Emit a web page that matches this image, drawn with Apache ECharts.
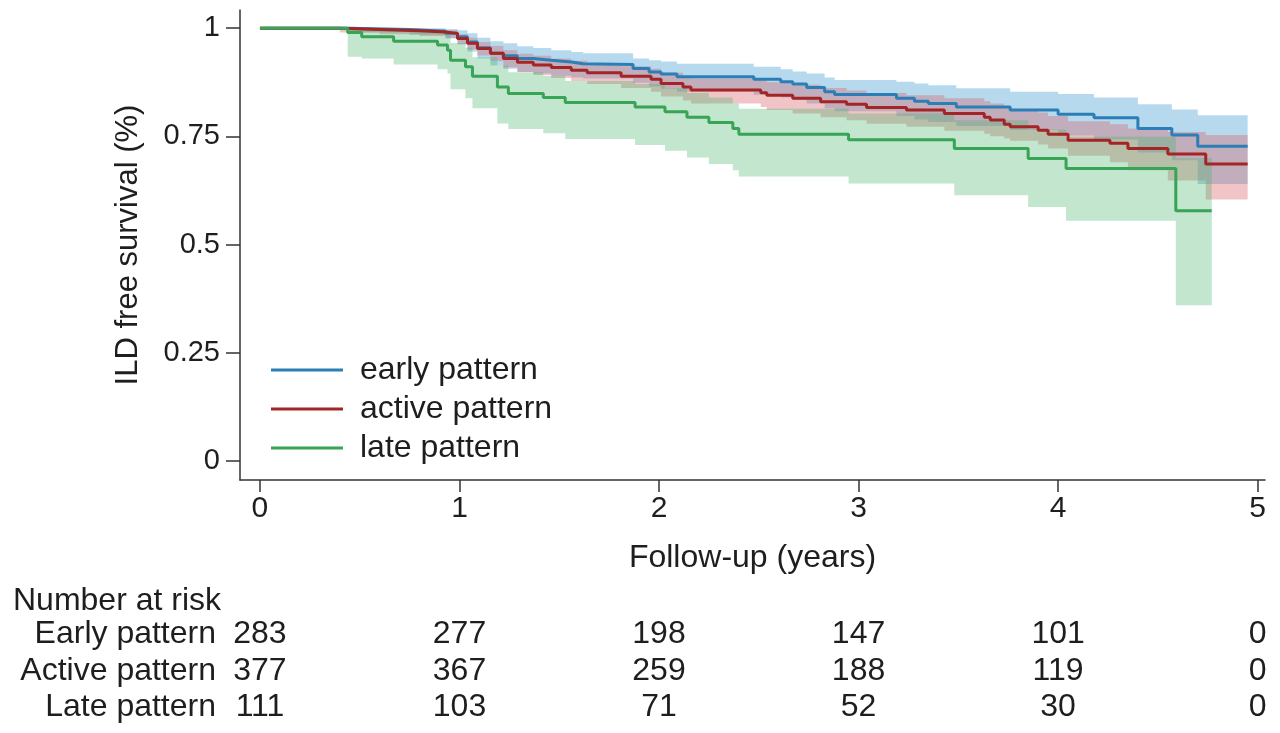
<!DOCTYPE html>
<html lang="en">
<head>
    <meta charset="UTF-8">
    <title>ILD free survival</title>
    <style>
        * {
            margin: 0;
            padding: 0;
        }

        .main {
            width: 1280px;
            height: 733px;
        }
    </style>
</head>
<body>
<div id="main" class="main"></div>
<script src="https://cdn.jsdelivr.net/npm/echarts@6/dist/echarts.min.js"></script>
<script>
    // tick labels
    var xTicks = [0, 1, 2, 3, 4, 5];
    var yTicks = [0, 0.25, 0.5, 0.75, 1];

    // early pattern: step times, survival, lower / upper CI
    var earlyTime = [0, 0.45, 0.75, 0.93, 0.99, 1.04, 1.09, 1.155, 1.22, 1.29, 1.37, 1.46, 1.56, 1.62, 1.87, 1.95, 2.01, 2.09, 2.475, 2.61, 2.67, 2.74, 2.83, 2.88, 3.19, 3.28, 3.35, 3.49, 3.76, 4.0, 4.18, 4.40, 4.57, 4.70, 4.95];
    var earlySurv = [1, 0.997, 0.993, 0.988, 0.980, 0.968, 0.955, 0.942, 0.936, 0.930, 0.926, 0.922, 0.918, 0.916, 0.907, 0.899, 0.894, 0.888, 0.882, 0.876, 0.871, 0.863, 0.853, 0.847, 0.838, 0.831, 0.826, 0.818, 0.811, 0.801, 0.793, 0.768, 0.753, 0.727, 0.727];
    var earlyLow = [1, 0.990, 0.985, 0.976, 0.962, 0.946, 0.930, 0.914, 0.906, 0.899, 0.895, 0.890, 0.886, 0.884, 0.874, 0.865, 0.860, 0.853, 0.846, 0.840, 0.834, 0.826, 0.815, 0.808, 0.797, 0.789, 0.783, 0.774, 0.765, 0.752, 0.743, 0.713, 0.695, 0.640, 0.640];
    var earlyHigh = [1, 1, 1, 0.998, 0.995, 0.988, 0.978, 0.970, 0.965, 0.958, 0.954, 0.949, 0.945, 0.942, 0.930, 0.926, 0.923, 0.918, 0.911, 0.905, 0.900, 0.895, 0.886, 0.880, 0.876, 0.872, 0.868, 0.861, 0.853, 0.848, 0.840, 0.824, 0.812, 0.799, 0.799];

    // active pattern
    var activeTime = [0, 0.40, 0.60, 0.80, 0.93, 0.99, 1.04, 1.09, 1.155, 1.22, 1.29, 1.37, 1.46, 1.56, 1.64, 1.81, 1.96, 2.01, 2.12, 2.16, 2.51, 2.54, 2.67, 2.81, 2.94, 3.04, 3.24, 3.43, 3.63, 3.66, 3.73, 3.76, 3.90, 3.95, 4.05, 4.26, 4.35, 4.55, 4.74, 4.95];
    var activeSurv = [1, 0.997, 0.994, 0.991, 0.988, 0.976, 0.965, 0.953, 0.942, 0.930, 0.921, 0.915, 0.909, 0.903, 0.897, 0.889, 0.882, 0.872, 0.864, 0.857, 0.851, 0.845, 0.838, 0.830, 0.824, 0.817, 0.811, 0.803, 0.794, 0.788, 0.778, 0.772, 0.764, 0.755, 0.741, 0.734, 0.722, 0.709, 0.686, 0.686];
    var activeLow = [1, 0.990, 0.986, 0.982, 0.978, 0.964, 0.951, 0.937, 0.924, 0.910, 0.899, 0.892, 0.885, 0.878, 0.871, 0.862, 0.853, 0.842, 0.833, 0.826, 0.818, 0.811, 0.803, 0.794, 0.787, 0.779, 0.772, 0.763, 0.756, 0.750, 0.745, 0.740, 0.731, 0.722, 0.705, 0.690, 0.672, 0.648, 0.604, 0.604];
    var activeHigh = [1, 1, 0.999, 0.997, 0.995, 0.986, 0.978, 0.968, 0.959, 0.949, 0.941, 0.936, 0.930, 0.925, 0.919, 0.912, 0.906, 0.897, 0.890, 0.884, 0.880, 0.875, 0.869, 0.862, 0.856, 0.850, 0.845, 0.838, 0.831, 0.826, 0.818, 0.812, 0.805, 0.797, 0.785, 0.778, 0.768, 0.760, 0.753, 0.753];

    // late pattern
    var lateTime = [0, 0.44, 0.51, 0.67, 0.89, 0.94, 0.955, 1.03, 1.065, 1.19, 1.245, 1.42, 1.53, 1.88, 2.03, 2.14, 2.25, 2.37, 2.40, 2.95, 3.48, 3.85, 4.04, 4.59, 4.77];
    var lateSurv = [1, 0.990, 0.980, 0.970, 0.961, 0.949, 0.926, 0.911, 0.889, 0.864, 0.849, 0.840, 0.828, 0.818, 0.807, 0.794, 0.782, 0.768, 0.755, 0.742, 0.722, 0.699, 0.676, 0.578, 0.578];
    var lateLow = [1, 0.934, 0.930, 0.916, 0.905, 0.895, 0.859, 0.838, 0.815, 0.780, 0.767, 0.757, 0.744, 0.730, 0.717, 0.701, 0.686, 0.672, 0.657, 0.641, 0.614, 0.587, 0.555, 0.360, 0.360];
    var lateHigh = [1, 0.999, 0.997, 0.995, 0.992, 0.984, 0.966, 0.955, 0.933, 0.914, 0.898, 0.890, 0.878, 0.871, 0.861, 0.850, 0.840, 0.826, 0.814, 0.803, 0.787, 0.766, 0.749, 0.700, 0.700];

    // number at risk table
    var riskTime = [0, 1, 2, 3, 4, 5];
    var riskGroups = ['Early pattern', 'Active pattern', 'Late pattern'];
    var earlyRisk = [283, 277, 198, 147, 101, 0];
    var activeRisk = [377, 367, 259, 188, 119, 0];
    var lateRisk = [111, 103, 71, 52, 30, 0];

    var FONT = '"Liberation Sans", Arial, Helvetica, sans-serif';
    var INK = '#1e1e1e';

    function pairs(ts, vs) {
        return ts.map(function (t, i) {
            return [t, vs[i]];
        });
    }

    // confidence band as one step-shaped polygon, placed through the axes
    function band(name, ts, lo, hi, fill) {
        return {
            type: 'custom', name: name + ' ci', silent: true, z: 1,
            data: ts.map(function (t, i) {
                return [t, lo[i], hi[i]];
            }),
            encode: {x: 0, y: [1, 2]},
            renderItem: function (params, api) {
                if (params.dataIndex !== 0) {
                    return null;
                }
                var pts = [];
                var n = ts.length;
                for (var i = 0; i < n; i++) {
                    pts.push(api.coord([ts[i], hi[i]]));
                    if (i < n - 1) {
                        pts.push(api.coord([ts[i + 1], hi[i]]));
                    }
                }
                for (var j = n - 1; j >= 0; j--) {
                    if (j < n - 1) {
                        pts.push(api.coord([ts[j + 1], lo[j]]));
                    }
                    pts.push(api.coord([ts[j], lo[j]]));
                }
                return {
                    type: 'polygon',
                    shape: {points: pts},
                    style: {fill: fill}
                };
            }
        };
    }

    function curve(name, ts, vs, color) {
        return {
            type: 'line', name: name, step: 'end', data: pairs(ts, vs),
            symbol: 'none', lineStyle: {color: color, width: 3},
            itemStyle: {color: color}, z: 5
        };
    }

    function riskRow(row, counts) {
        return riskTime.map(function (t, i) {
            return [t, row, counts[i]];
        });
    }

    var blue = '#2b7fb6';
    var red = '#a32525';
    var green = '#37a456';

    var series = [
        band('early', earlyTime, earlyLow, earlyHigh, 'rgba(80,165,215,0.42)'),
        band('active', activeTime, activeLow, activeHigh, 'rgba(215,95,100,0.36)'),
        band('late', lateTime, lateLow, lateHigh, 'rgba(70,180,105,0.33)'),
        curve('early pattern', earlyTime, earlySurv, blue),
        curve('active pattern', activeTime, activeSurv, red),
        curve('late pattern', lateTime, lateSurv, green)
    ];

    // numbers at risk, written at their (time, group) cell
    series.push({
        type: 'custom', xAxisIndex: 1, yAxisIndex: 1, silent: true,
        data: riskRow(0, earlyRisk).concat(riskRow(1, activeRisk)).concat(riskRow(2, lateRisk)),
        encode: {x: 0, y: 1},
        renderItem: function (params, api) {
            var p = api.coord([api.value(0), api.value(1)]);
            return {
                type: 'text', x: p[0], y: p[1],
                style: {
                    text: String(api.value(2)), fill: INK,
                    font: '32px ' + FONT, align: 'center', verticalAlign: 'middle'
                }
            };
        }
    });

    var myChart = echarts.init(document.getElementById('main'), null, {renderer: 'canvas'});

    myChart.setOption({
        backgroundColor: '#fff',
        animation: false,
        title: {
            text: 'Number at risk', left: 8, top: 580,
            textStyle: {fontFamily: FONT, fontSize: 32, fontWeight: 'normal', color: INK}
        },
        legend: {
            data: ['early pattern', 'active pattern', 'late pattern'],
            orient: 'vertical', left: 266, top: 349,
            icon: 'rect', itemWidth: 72, itemHeight: 3, itemGap: 7,
            textStyle: {fontFamily: FONT, fontSize: 32, color: INK, lineHeight: 32, padding: [0, 0, 0, 12]}
        },
        grid: [
            {left: 240, right: 15, top: 10, height: 470},
            {left: 240, right: 15, top: 616, height: 110}
        ],
        xAxis: [{
            type: 'value', min: -0.1, max: 5.037,
            name: 'Follow-up (years)', nameLocation: 'middle', nameGap: 62, nameMoveOverlap: false,
            nameTextStyle: {fontFamily: FONT, fontSize: 32, color: INK},
            axisLine: {onZero: false, lineStyle: {color: '#333', width: 1.5}},
            axisTick: {show: true, length: 12, customValues: xTicks, lineStyle: {color: '#333', width: 1.5}},
            axisLabel: {customValues: xTicks, margin: 14, fontFamily: FONT, fontSize: 30, color: INK},
            splitLine: {show: false}
        }, {
            type: 'value', gridIndex: 1, min: -0.1, max: 5.037, show: false
        }],
        yAxis: [{
            type: 'value', min: -0.044, max: 1.042,
            name: 'ILD free survival (%)', nameLocation: 'middle', nameGap: 96, nameMoveOverlap: false,
            nameTextStyle: {fontFamily: FONT, fontSize: 31, color: INK},
            axisLine: {show: true, onZero: false, lineStyle: {color: '#333', width: 1.5}},
            axisTick: {show: true, length: 14, customValues: yTicks, lineStyle: {color: '#333', width: 1.5}},
            axisLabel: {customValues: yTicks, margin: 20, fontFamily: FONT, fontSize: 29, color: INK},
            splitLine: {show: false}
        }, {
            type: 'category', gridIndex: 1, inverse: true, data: riskGroups,
            axisLine: {show: false}, axisTick: {show: false}, splitLine: {show: false},
            axisLabel: {interval: 0, margin: 24, fontFamily: FONT, fontSize: 32, color: INK}
        }],
        series: series
    });
</script>
</body>
</html>
